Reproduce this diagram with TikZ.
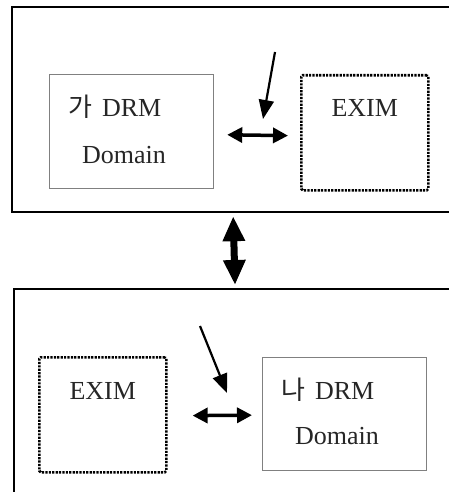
\documentclass[tikz,border=0pt]{standalone}
\usepackage{fontspec}
\setmainfont{Liberation Serif}
\newfontfamily\kr{Noto Sans CJK KR}
\usetikzlibrary{arrows.meta,calc}

\tikzset{
  outerbox/.style={draw=black, line width=2.2pt, inner sep=0pt, anchor=north west},
  drmbox/.style={draw=black!50, line width=1.2pt, inner sep=0pt, anchor=north west},
  eximbox/.style={draw=black, line width=2.6pt, dash pattern=on 2.2pt off 1.2pt,
                  rounded corners=1.5pt, inner sep=0pt, anchor=north west},
  lbl/.style={text=black!85, inner sep=0pt, font=\fontsize{26}{30}\selectfont},
  pairarrow/.style={line width=3.5pt, {Triangle[length=15pt,width=15pt]}-{Triangle[length=15pt,width=15pt]}},
  linkarrow/.style={line width=7pt, {Triangle[length=25pt,width=21pt]}-{Triangle[length=25pt,width=21pt]}},
  injectarrow/.style={line width=2.2pt, -{Triangle[length=19pt,width=15pt]}}
}

\begin{document}
\begin{tikzpicture}[x=1pt, y=-1pt]
  \useasboundingbox (0,0) rectangle (449,492);
  \clip (0,0) rectangle (449,492);

  % upper domain
  \node[outerbox, minimum width=442pt, minimum height=205pt] (topdom) at (11,6) {};
  \node[drmbox, minimum width=164pt, minimum height=114pt] (drmA) at (49,74) {};
  \node[eximbox, minimum width=127pt, minimum height=115pt] (eximA) at (300,74) {};
  \node[lbl, anchor=base west] (drmAt1) at (68,117) {{\kr 가}\hspace{10pt}DRM};
  \node[lbl, anchor=base west] (drmAt2) at (82,163) {Domain};
  \node[lbl, anchor=base] (eximAt) at ($(eximA.north)+(0,43)$) {EXIM};
  \draw[pairarrow, shorten <=13pt, shorten >=12pt]
    ([yshift=-3pt]drmA.east) -- ([yshift=-3pt]eximA.west);
  \coordinate (inA) at (275,52);
  \coordinate (tipA) at (263,119);
  \draw[injectarrow] (inA) -- (tipA);

  % lower domain
  \node[outerbox, minimum width=442pt, minimum height=210pt] (botdom) at (13,288) {};
  \node[eximbox, minimum width=127pt, minimum height=115pt] (eximB) at (38,356) {};
  \node[drmbox, minimum width=164pt, minimum height=113pt] (drmB) at (262,357) {};
  \node[lbl, anchor=base] (eximBt) at ($(eximB.north)+(0,43)$) {EXIM};
  \node[lbl, anchor=base west] (drmBt1) at (281,399) {{\kr 나}\hspace{10pt}DRM};
  \node[lbl, anchor=base west] (drmBt2) at (295,444) {Domain};
  \draw[pairarrow, shorten <=25pt, shorten >=10pt]
    ([yshift=-1pt]eximB.east) -- ([yshift=-1pt]drmB.west);
  \coordinate (inB) at (200,326);
  \coordinate (tipB) at (227,393);
  \draw[injectarrow] (inB) -- (tipB);

  % link between the two domains
  \draw[linkarrow, shorten <=3pt, shorten >=3pt] (topdom.south) -- (botdom.north);
\end{tikzpicture}
\end{document}
